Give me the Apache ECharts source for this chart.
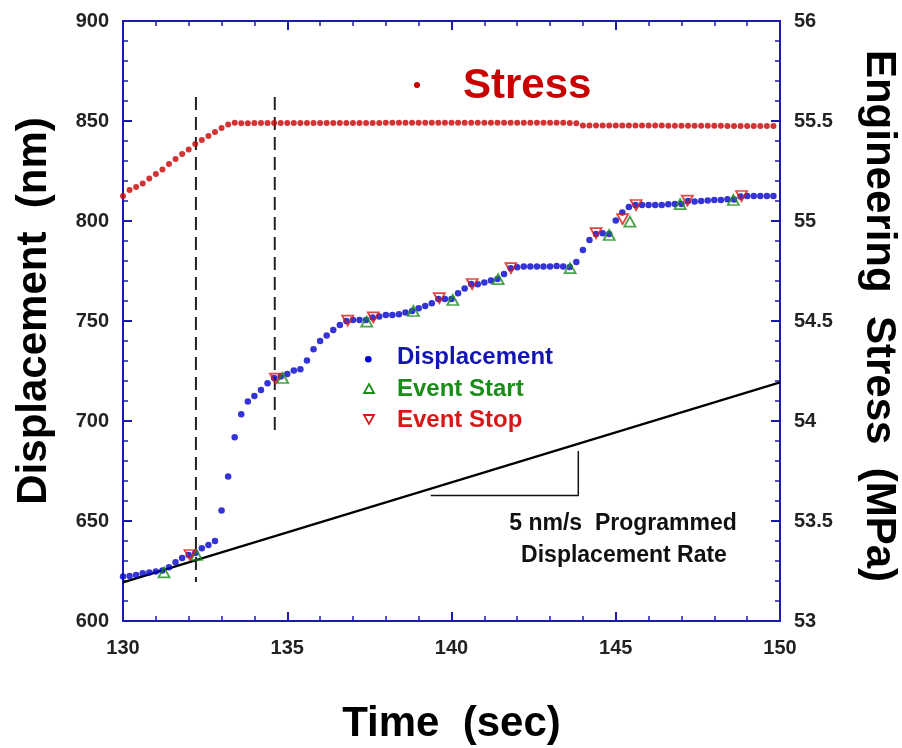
<!DOCTYPE html>
<html>
<head>
<meta charset="utf-8">
<title>Displacement and Engineering Stress vs Time</title>
<script src="https://cdn.jsdelivr.net/npm/echarts@6/dist/echarts.min.js"></script>
<style>
  html, body { margin: 0; padding: 0; background: #fff; overflow: hidden; }
  #chart { width: 902px; height: 748px; }
</style>
</head>
<body>
<div id="chart"></div>
<script>
// Sample times (s) shared by the displacement and stress records
const sampleTime = [
  130.0, 130.2, 130.4, 130.6, 130.8, 131.0, 131.2, 131.4, 131.6, 131.8,
  132.0, 132.2, 132.4, 132.6, 132.8, 133.0, 133.2, 133.4, 133.6, 133.8,
  134.0, 134.2, 134.4, 134.6, 134.8, 135.0, 135.2, 135.4, 135.6, 135.8,
  136.0, 136.2, 136.4, 136.6, 136.8, 137.0, 137.2, 137.4, 137.6, 137.8,
  138.0, 138.2, 138.4, 138.6, 138.8, 139.0, 139.2, 139.4, 139.6, 139.8,
  140.0, 140.2, 140.4, 140.6, 140.8, 141.0, 141.2, 141.4, 141.6, 141.8,
  142.0, 142.2, 142.4, 142.6, 142.8, 143.0, 143.2, 143.4, 143.6, 143.8,
  144.0, 144.2, 144.4, 144.6, 144.8, 145.0, 145.2, 145.4, 145.6, 145.8,
  146.0, 146.2, 146.4, 146.6, 146.8, 147.0, 147.2, 147.4, 147.6, 147.8,
  148.0, 148.2, 148.4, 148.6, 148.8, 149.0, 149.2, 149.4, 149.6, 149.8
];

// Displacement (nm), left axis
const displacement = [
  622.2, 622.5, 623.0, 623.9, 624.2, 624.7, 625.3, 626.9, 629.4, 631.5,
  633.0, 634.0, 636.4, 638.0, 640.0, 655.2, 672.2, 691.9, 703.4, 709.7,
  712.5, 715.5, 718.9, 721.5, 722.3, 723.5, 725.2, 725.9, 730.2, 735.9,
  740.0, 742.7, 745.5, 748.0, 750.0, 750.5, 750.5, 750.5, 751.8, 752.2,
  753.0, 753.0, 753.4, 754.2, 755.0, 756.4, 757.5, 758.9, 761.0, 761.0,
  761.0, 763.9, 766.3, 768.5, 768.4, 769.2, 770.2, 771.0, 773.5, 776.4,
  776.9, 777.2, 777.2, 777.2, 777.2, 777.2, 777.5, 777.2, 777.0, 779.5,
  785.5, 790.5, 793.5, 793.9, 793.5, 800.2, 804.2, 807.0, 808.0, 808.0,
  808.0, 808.0, 808.0, 808.4, 808.5, 808.5, 810.0, 809.7, 810.0, 810.2,
  810.5, 810.5, 810.9, 810.8, 812.3, 812.5, 812.5, 812.5, 812.5, 812.5
];

// Engineering stress (MPa), right axis
const stress = [
  55.125, 55.155, 55.170, 55.188, 55.212, 55.235, 55.258, 55.285, 55.310, 55.335,
  55.358, 55.385, 55.405, 55.425, 55.445, 55.465, 55.482, 55.491, 55.489, 55.489,
  55.490, 55.490, 55.490, 55.490, 55.490, 55.490, 55.490, 55.490, 55.490, 55.490,
  55.490, 55.490, 55.490, 55.490, 55.490, 55.490, 55.490, 55.490, 55.490, 55.490,
  55.491, 55.491, 55.491, 55.491, 55.491, 55.491, 55.491, 55.491, 55.491, 55.491,
  55.491, 55.491, 55.491, 55.491, 55.491, 55.491, 55.491, 55.491, 55.491, 55.491,
  55.491, 55.491, 55.491, 55.491, 55.491, 55.491, 55.491, 55.491, 55.490, 55.489,
  55.478, 55.478, 55.478, 55.478, 55.478, 55.477, 55.477, 55.477, 55.477, 55.477,
  55.477, 55.477, 55.477, 55.476, 55.476, 55.476, 55.476, 55.476, 55.476, 55.476,
  55.476, 55.476, 55.475, 55.475, 55.475, 55.475, 55.475, 55.475, 55.475, 55.475
];

// Acoustic events: start and stop (time s, displacement nm)
const eventStartTime = [131.25, 132.24, 134.86, 137.42, 138.84, 140.04, 141.42, 143.61, 144.80, 145.43, 146.96, 148.58];
const eventStartNm   = [624.3, 633.0, 721.5, 749.7, 755.0, 760.5, 770.9, 776.4, 793.0, 799.7, 808.4, 810.5];
const eventStopTime  = [132.04, 134.64, 136.84, 137.62, 139.63, 140.63, 141.81, 144.40, 145.21, 145.62, 147.18, 148.83];
const eventStopNm    = [633.0, 721.2, 750.2, 751.8, 761.4, 768.5, 776.4, 793.9, 800.9, 808.0, 810.2, 812.5];

// Programmed displacement rate (5 nm/s) and its slope guide
const rateTime = [130, 150];
const rateNm = [619.3, 719.3];
const slopeGuideTime = [139.37, 143.86, 143.86];
const slopeGuideNm = [662.7, 662.7, 685.0];

// Dashed markers bracketing the load ramp
const markerTime = [132.22, 134.62];
const markerTopNm = [862, 862];
const markerBottomNm = [619.5, 694.5];

// Axis ranges and tick steps
const timeRange = [130, 150, 5];
const dispRange = [600, 900, 50];
const stressRange = [53, 56, 0.5];

const zip = (a, b) => a.map((v, i) => [v, b[i]]);

const FONT = '"Liberation Sans", Arial, Helvetica, sans-serif';
const AXIS_BLUE = '#1a1ab0';
const DOT_BLUE = '#0000cc';
const STRESS_RED = '#c80000';
const START_GREEN = '#1a8c1a';
const STOP_RED = '#d81818';

function frameAxis(extra) {
  return Object.assign({
    type: 'value',
    axisLine: { show: true, onZero: false, lineStyle: { color: AXIS_BLUE, width: 2 } },
    axisTick: { show: true, inside: true, length: 9, lineStyle: { color: AXIS_BLUE, width: 2 } },
    minorTick: { show: true, splitNumber: 5, length: 5, lineStyle: { color: AXIS_BLUE, width: 1.5 } },
    splitLine: { show: false },
    minorSplitLine: { show: false },
    axisLabel: { color: '#222', fontSize: 20, fontWeight: 'bold', fontFamily: FONT, margin: 14 },
    nameTextStyle: { color: '#000', fontSize: 42, fontWeight: 'bold', fontFamily: FONT }
  }, extra);
}

function titleStyle(padding) {
  return { color: '#000', fontSize: 42, fontWeight: 'bold', fontFamily: FONT, padding: padding };
}

const chart = echarts.init(document.getElementById('chart'), null, { renderer: 'canvas' });

const markerSeries = markerTime.map((t, i) => ({
  type: 'line',
  xAxisIndex: 0, yAxisIndex: 0,
  data: [[t, markerTopNm[i]], [t, markerBottomNm[i]]],
  showSymbol: false, symbol: 'none', silent: true,
  lineStyle: { color: '#222', width: 2, type: [13, 7] },
  z: 2
}));

const bottomAxis = frameAxis({
  position: 'bottom', min: timeRange[0], max: timeRange[1], interval: timeRange[2],
  name: 'Time  (sec)', nameLocation: 'middle', nameGap: 82
});
bottomAxis.axisLabel = Object.assign({}, bottomAxis.axisLabel, { margin: 17 });

chart.setOption({
  animation: false,
  backgroundColor: '#ffffff',
  grid: { left: 123, right: 122, top: 21, bottom: 127, containLabel: false, outerBoundsMode: 'none' },
  xAxis: [
    bottomAxis,
    frameAxis({
      position: 'top', min: timeRange[0], max: timeRange[1], interval: timeRange[2],
      axisLabel: { show: false }
    })
  ],
  yAxis: [
    frameAxis({
      position: 'left', min: dispRange[0], max: dispRange[1], interval: dispRange[2],
      name: 'Displacement  (nm)', nameLocation: 'middle', nameRotate: 90, nameGap: 68,
      nameTextStyle: titleStyle([0, 0, 0, 20])
    }),
    frameAxis({
      position: 'right', min: stressRange[0], max: stressRange[1], interval: stressRange[2],
      name: 'Engineering  Stress  (MPa)', nameLocation: 'middle', nameRotate: -90, nameGap: 78,
      nameTextStyle: titleStyle([0, 10, 0, 0])
    })
  ],
  series: [
    ...markerSeries,
    {
      name: 'Programmed Rate', type: 'line', xAxisIndex: 0, yAxisIndex: 0,
      data: zip(rateTime, rateNm), showSymbol: false, symbol: 'none', silent: true,
      lineStyle: { color: '#000', width: 2.2 }, z: 3
    },
    {
      name: 'Slope Guide', type: 'line', xAxisIndex: 0, yAxisIndex: 0,
      data: zip(slopeGuideTime, slopeGuideNm), showSymbol: false, symbol: 'none', silent: true,
      lineStyle: { color: '#111', width: 1.5 }, z: 3
    },
    {
      name: 'Stress', type: 'scatter', xAxisIndex: 0, yAxisIndex: 1,
      data: zip(sampleTime, stress), symbol: 'circle', symbolSize: 6,
      itemStyle: { color: STRESS_RED }, z: 4
    },
    {
      name: 'Displacement', type: 'scatter', xAxisIndex: 0, yAxisIndex: 0,
      data: zip(sampleTime, displacement), symbol: 'circle', symbolSize: 6.5,
      itemStyle: { color: DOT_BLUE }, z: 4
    },
    {
      name: 'Event Start', type: 'scatter', xAxisIndex: 0, yAxisIndex: 0,
      data: zip(eventStartTime, eventStartNm), symbol: 'triangle', symbolSize: [11, 10],
      itemStyle: { color: 'rgba(255,255,255,0)', borderColor: START_GREEN, borderWidth: 1.8 }, z: 5
    },
    {
      name: 'Event Stop', type: 'scatter', xAxisIndex: 0, yAxisIndex: 0,
      data: zip(eventStopTime, eventStopNm), symbol: 'triangle', symbolRotate: 180, symbolSize: [11, 10],
      itemStyle: { color: 'rgba(255,255,255,0)', borderColor: STOP_RED, borderWidth: 1.8 }, z: 5
    }
  ],
  graphic: [
    // Stress series label
    { type: 'circle', left: 414, top: 82, shape: { r: 3 }, style: { fill: STRESS_RED }, z: 10 },
    { type: 'text', left: 463, top: 65,
      style: { text: 'Stress', fill: STRESS_RED, font: 'bold 42px ' + FONT }, z: 10 },
    // Legend for the displacement-axis series
    { type: 'circle', left: 365, top: 356, shape: { r: 3.3 }, style: { fill: DOT_BLUE }, z: 10 },
    { type: 'text', left: 397, top: 345,
      style: { text: 'Displacement', fill: '#1414b4', font: 'bold 24px ' + FONT }, z: 10 },
    { type: 'polygon', shape: { points: [[369, 384], [374, 393], [364, 393]] },
      style: { fill: 'none', stroke: START_GREEN, lineWidth: 1.8 }, z: 10 },
    { type: 'text', left: 397, top: 377,
      style: { text: 'Event Start', fill: START_GREEN, font: 'bold 24px ' + FONT }, z: 10 },
    { type: 'polygon', shape: { points: [[364, 415], [374, 415], [369, 424]] },
      style: { fill: 'none', stroke: STOP_RED, lineWidth: 1.8 }, z: 10 },
    { type: 'text', left: 397, top: 408,
      style: { text: 'Event Stop', fill: STOP_RED, font: 'bold 24px ' + FONT }, z: 10 },
    // Rate annotation
    { type: 'text', x: 623, y: 524,
      style: { text: '5 nm/s  Programmed', fill: '#111', font: 'bold 23px ' + FONT, align: 'center', verticalAlign: 'middle' }, z: 10 },
    { type: 'text', x: 624, y: 556,
      style: { text: 'Displacement Rate', fill: '#111', font: 'bold 23px ' + FONT, align: 'center', verticalAlign: 'middle' }, z: 10 }
  ]
});
</script>
</body>
</html>
